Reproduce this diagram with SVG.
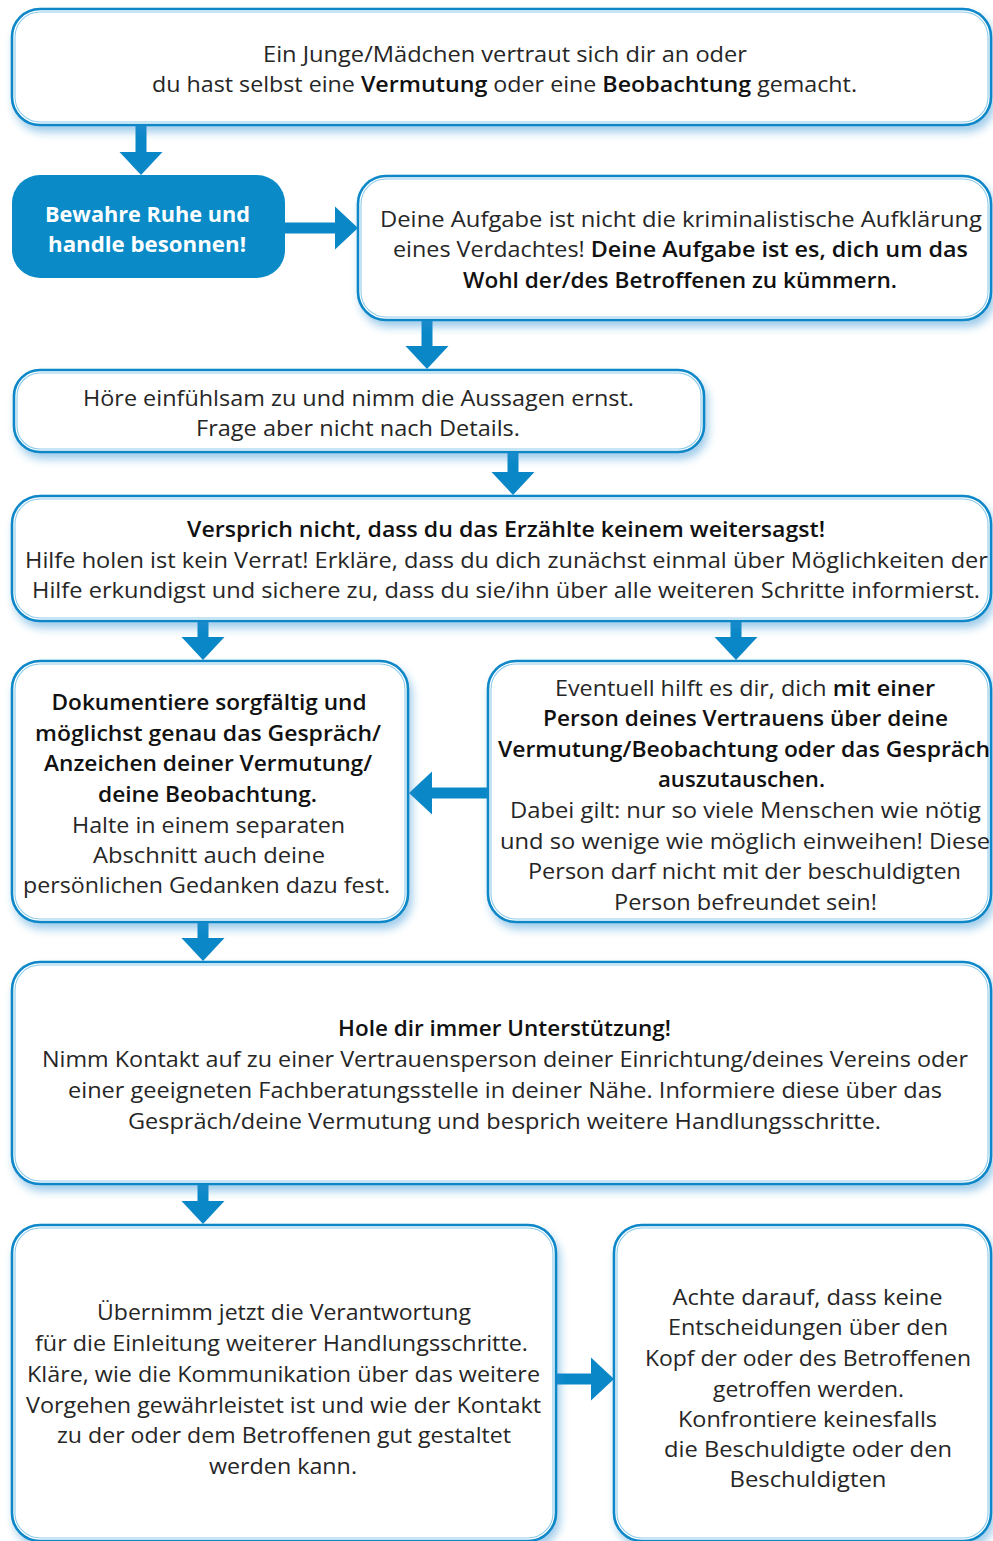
<svg xmlns="http://www.w3.org/2000/svg" width="993" height="1541" viewBox="0 0 993 1541">
<style>
.box{fill:#ffffff;stroke:#0a87c7;stroke-width:2.6;filter:url(#sh)}
.inner{fill:none;stroke:#8fcbea;stroke-width:1.1}
.fill{fill:#0a8bc8;stroke:none}
text{font-family:"Open Sans","Noto Sans","Liberation Sans",sans-serif;font-size:22px;fill:#262626;font-weight:400;text-anchor:middle}
.b{font-weight:600;fill:#111111}
.w{fill:#ffffff;font-weight:700}
.c line{stroke:#0a87c7;stroke-width:11;marker-end:url(#ah)}
</style>
<defs>
<filter id="sh" x="-5%" y="-10%" width="112%" height="130%">
<feDropShadow dx="3" dy="6" stdDeviation="4" flood-color="#2b8fd2" flood-opacity="0.45"/>
</filter>
<marker id="ah" markerUnits="userSpaceOnUse" markerWidth="24" markerHeight="44" viewBox="0 -22 24 44" refX="1" refY="0" orient="auto">
<path d="M0,-21.5 L23,0 L0,21.5 Z" fill="#0a87c7"/>
</marker>
</defs>

<g class="c" id="connectors">
<line x1="141" y1="125" x2="141" y2="153"/>
<line x1="285" y1="228" x2="336" y2="228"/>
<line x1="427" y1="320" x2="427" y2="347"/>
<line x1="513" y1="452" x2="513" y2="473"/>
<line x1="203" y1="621" x2="203" y2="638"/>
<line x1="736" y1="621" x2="736" y2="638"/>
<line x1="488" y1="793" x2="431" y2="793"/>
<line x1="203" y1="922" x2="203" y2="939"/>
<line x1="203" y1="1184" x2="203" y2="1202"/>
<line x1="556" y1="1379" x2="592" y2="1379"/>
</g>

<g id="n1">
<rect class="box" x="12" y="9" width="979" height="116" rx="28"/>
<rect class="inner" x="15" y="12" width="973" height="110" rx="25"/>
<text x="505" y="62" textLength="484" lengthAdjust="spacingAndGlyphs">Ein Junge/Mädchen vertraut sich dir an oder</text>
<text x="504.5" y="92" textLength="705" lengthAdjust="spacingAndGlyphs">du hast selbst eine <tspan class="b">Vermutung</tspan> oder eine <tspan class="b">Beobachtung</tspan> gemacht.</text>
</g>

<g id="n2">
<rect class="fill" x="12" y="175" width="273" height="103" rx="28"/>
<text class="w" x="147.5" y="222" textLength="205" lengthAdjust="spacingAndGlyphs">Bewahre Ruhe und</text>
<text class="w" x="147" y="252" textLength="198" lengthAdjust="spacingAndGlyphs">handle besonnen!</text>
</g>

<g id="n3">
<rect class="box" x="358" y="176" width="633" height="144" rx="28"/>
<rect class="inner" x="361" y="179" width="627" height="138" rx="25"/>
<text x="681" y="227" textLength="602" lengthAdjust="spacingAndGlyphs">Deine Aufgabe ist nicht die kriminalistische Aufklärung</text>
<text x="680.5" y="257" textLength="575" lengthAdjust="spacingAndGlyphs">eines Verdachtes! <tspan class="b">Deine Aufgabe ist es, dich um das</tspan></text>
<text class="b" x="680" y="288" textLength="434" lengthAdjust="spacingAndGlyphs">Wohl der/des Betroffenen zu kümmern.</text>
</g>

<g id="n4">
<rect class="box" x="14" y="370" width="690" height="82" rx="26"/>
<rect class="inner" x="17" y="373" width="684" height="76" rx="23"/>
<text x="358.5" y="406" textLength="551" lengthAdjust="spacingAndGlyphs">Höre einfühlsam zu und nimm die Aussagen ernst.</text>
<text x="358" y="436" textLength="324" lengthAdjust="spacingAndGlyphs">Frage aber nicht nach Details.</text>
</g>

<g id="n5">
<rect class="box" x="12" y="496" width="979" height="125" rx="28"/>
<rect class="inner" x="15" y="499" width="973" height="119" rx="25"/>
<text class="b" x="506" y="537" textLength="638" lengthAdjust="spacingAndGlyphs">Versprich nicht, dass du das Erzählte keinem weitersagst!</text>
<text x="506.5" y="568" textLength="963" lengthAdjust="spacingAndGlyphs">Hilfe holen ist kein Verrat! Erkläre, dass du dich zunächst einmal über Möglichkeiten der</text>
<text x="506" y="598" textLength="948" lengthAdjust="spacingAndGlyphs">Hilfe erkundigst und sichere zu, dass du sie/ihn über alle weiteren Schritte informierst.</text>
</g>

<g id="n6">
<rect class="box" x="12" y="661" width="396" height="261" rx="28"/>
<rect class="inner" x="15" y="664" width="390" height="255" rx="25"/>
<text class="b" x="209" y="710" textLength="315" lengthAdjust="spacingAndGlyphs">Dokumentiere sorgfältig und</text>
<text class="b" x="208" y="741" textLength="346" lengthAdjust="spacingAndGlyphs">möglichst genau das Gespräch/</text>
<text class="b" x="208" y="771" textLength="328" lengthAdjust="spacingAndGlyphs">Anzeichen deiner Vermutung/</text>
<text class="b" x="207.5" y="802" textLength="219" lengthAdjust="spacingAndGlyphs">deine Beobachtung.</text>
<text x="208.5" y="833" textLength="273" lengthAdjust="spacingAndGlyphs">Halte in einem separaten</text>
<text x="209" y="863" textLength="232" lengthAdjust="spacingAndGlyphs">Abschnitt auch deine</text>
<text x="206.5" y="893" textLength="367" lengthAdjust="spacingAndGlyphs">persönlichen Gedanken dazu fest.</text>
</g>

<g id="n7">
<rect class="box" x="488" y="661" width="503" height="261" rx="28"/>
<rect class="inner" x="491" y="664" width="497" height="255" rx="25"/>
<text x="745" y="696" textLength="380" lengthAdjust="spacingAndGlyphs">Eventuell hilft es dir, dich <tspan class="b">mit einer</tspan></text>
<text class="b" x="745.5" y="726" textLength="405" lengthAdjust="spacingAndGlyphs">Person deines Vertrauens über deine</text>
<text class="b" x="744" y="757" textLength="492" lengthAdjust="spacingAndGlyphs">Vermutung/Beobachtung oder das Gespräch</text>
<text class="b" x="741.5" y="787" textLength="167" lengthAdjust="spacingAndGlyphs">auszutauschen.</text>
<text x="745.5" y="818" textLength="471" lengthAdjust="spacingAndGlyphs">Dabei gilt: nur so viele Menschen wie nötig</text>
<text x="745" y="849" textLength="490" lengthAdjust="spacingAndGlyphs">und so wenige wie möglich einweihen! Diese</text>
<text x="744.5" y="879" textLength="433" lengthAdjust="spacingAndGlyphs">Person darf nicht mit der beschuldigten</text>
<text x="745.5" y="910" textLength="263" lengthAdjust="spacingAndGlyphs">Person befreundet sein!</text>
</g>

<g id="n8">
<rect class="box" x="12" y="962" width="979" height="222" rx="28"/>
<rect class="inner" x="15" y="965" width="973" height="216" rx="25"/>
<text class="b" x="504.5" y="1036" textLength="333" lengthAdjust="spacingAndGlyphs">Hole dir immer Unterstützung!</text>
<text x="505" y="1067" textLength="926" lengthAdjust="spacingAndGlyphs">Nimm Kontakt auf zu einer Vertrauensperson deiner Einrichtung/deines Vereins oder</text>
<text x="505" y="1098" textLength="874" lengthAdjust="spacingAndGlyphs">einer geeigneten Fachberatungsstelle in deiner Nähe. Informiere diese über das</text>
<text x="504.5" y="1129" textLength="753" lengthAdjust="spacingAndGlyphs">Gespräch/deine Vermutung und besprich weitere Handlungsschritte.</text>
</g>

<g id="n9">
<rect class="box" x="12" y="1225" width="544" height="316" rx="28"/>
<rect class="inner" x="15" y="1228" width="538" height="310" rx="25"/>
<text x="284" y="1320" textLength="374" lengthAdjust="spacingAndGlyphs">Übernimm jetzt die Verantwortung</text>
<text x="281.5" y="1351" textLength="493" lengthAdjust="spacingAndGlyphs">für die Einleitung weiterer Handlungsschritte.</text>
<text x="283.5" y="1382" textLength="513" lengthAdjust="spacingAndGlyphs">Kläre, wie die Kommunikation über das weitere</text>
<text x="283.5" y="1413" textLength="515" lengthAdjust="spacingAndGlyphs">Vorgehen gewährleistet ist und wie der Kontakt</text>
<text x="284" y="1443" textLength="454" lengthAdjust="spacingAndGlyphs">zu der oder dem Betroffenen gut gestaltet</text>
<text x="283" y="1474" textLength="148" lengthAdjust="spacingAndGlyphs">werden kann.</text>
</g>

<g id="n10">
<rect class="box" x="614" y="1225" width="377" height="316" rx="28"/>
<rect class="inner" x="617" y="1228" width="371" height="310" rx="25"/>
<text x="807.5" y="1305" textLength="270" lengthAdjust="spacingAndGlyphs">Achte darauf, dass keine</text>
<text x="808" y="1335" textLength="280" lengthAdjust="spacingAndGlyphs">Entscheidungen über den</text>
<text x="808" y="1366" textLength="326" lengthAdjust="spacingAndGlyphs">Kopf der oder des Betroffenen</text>
<text x="808.5" y="1397" textLength="191" lengthAdjust="spacingAndGlyphs">getroffen werden.</text>
<text x="807.5" y="1427" textLength="259" lengthAdjust="spacingAndGlyphs">Konfrontiere keinesfalls</text>
<text x="808" y="1457" textLength="288" lengthAdjust="spacingAndGlyphs">die Beschuldigte oder den</text>
<text x="808" y="1487" textLength="157" lengthAdjust="spacingAndGlyphs">Beschuldigten</text>
</g>
</svg>
